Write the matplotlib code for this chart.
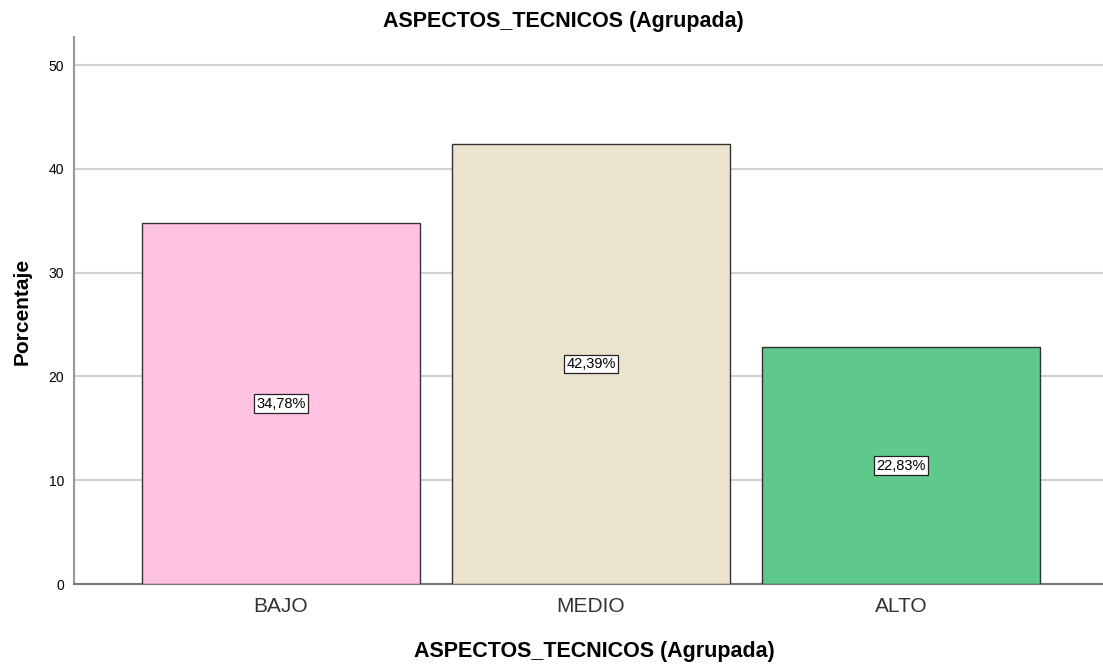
import matplotlib.pyplot as plt

plt.rcParams['font.family'] = ['Liberation Sans', 'DejaVu Sans']

categories = ['BAJO', 'MEDIO', 'ALTO']
percentages = [34.78, 42.39, 22.83]
labels = ['34,78%', '42,39%', '22,83%']
colors = ['#FFC3E1', '#EBE3CE', '#5EC98B']

W, H = 1103, 666
fig = plt.figure(figsize=(W / 100, H / 100), dpi=100)
ax = fig.add_axes([74 / W, 1 - 584 / H, 1 - 74 / W, (584 - 37) / H])

x = list(range(len(categories)))
ax.bar(x, percentages, width=0.897, color=colors, edgecolor='#333333', linewidth=1.0, zorder=3)

for xi, v, lab in zip(x, percentages, labels):
    ax.text(xi, v / 2, lab, ha='center', va='center', fontsize=10.5, zorder=4,
            bbox=dict(boxstyle='square,pad=0.15', facecolor='white', edgecolor='#222222', linewidth=0.9))

ax.set_xlim(-0.668, 2.652)
ax.set_ylim(0, 52.7)
ax.set_yticks([0, 10, 20, 30, 40, 50])
ax.set_xticks(x)
ax.set_xticklabels(categories, fontsize=15, color='#333333')
ax.tick_params(axis='y', labelsize=10, length=0, pad=7)
ax.tick_params(axis='x', length=0, pad=9)
ax.yaxis.grid(True, color='#d0d0d0', linewidth=1.5, zorder=0)
ax.set_axisbelow(True)

for s in ['top', 'right']:
    ax.spines[s].set_visible(False)
ax.spines['left'].set_color('#999999')
ax.spines['left'].set_linewidth(1.5)
ax.spines['bottom'].set_color('#777777')
ax.spines['bottom'].set_linewidth(1.5)

fig.text(22 / W, 1 - 311 / H, 'Porcentaje', fontsize=15, fontweight='bold',
         rotation=90, ha='center', va='center')
fig.text(594 / W, 1 - 652 / H, 'ASPECTOS_TECNICOS (Agrupada)', fontsize=15.5, fontweight='bold',
         ha='center', va='center')
fig.text(563 / W, 1 - 22 / H, 'ASPECTOS_TECNICOS (Agrupada)', fontsize=15.5, fontweight='bold',
         ha='center', va='center')

fig.savefig('out.png', dpi=100)
